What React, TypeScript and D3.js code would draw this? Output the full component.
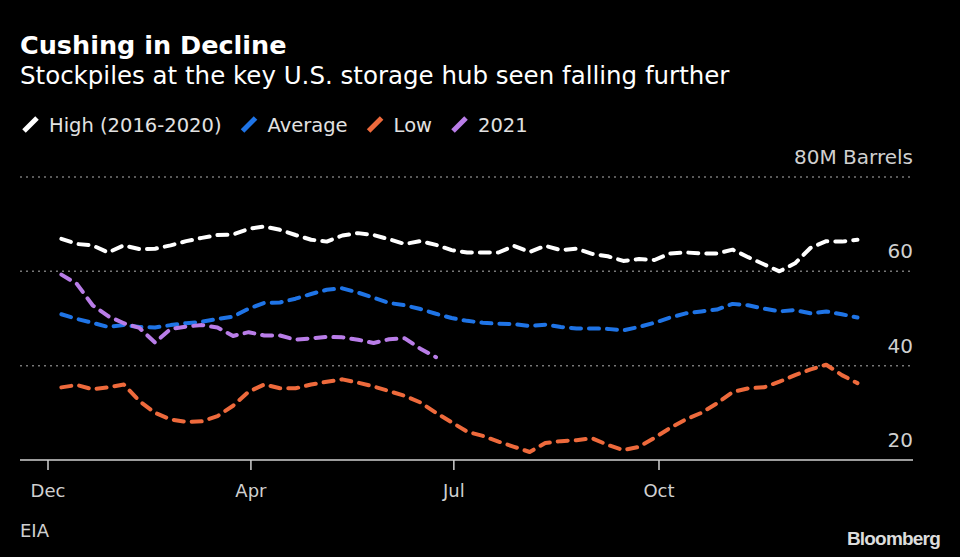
import React, { useEffect, useRef } from 'react';
import * as d3 from 'd3';

// weekly storage levels, millions of barrels (first week ends 2021-01-06)
const highValues = [
	66.9, 65.8, 65.5, 64.0, 65.5, 64.7, 64.8, 65.5, 66.4, 67.1, 67.7, 67.8, 69.0, 69.5, 68.8, 67.7, 66.7,
	66.3, 67.6, 68.1, 67.7, 66.8, 65.8, 66.4, 65.6, 64.5, 64.0, 64.0, 64.0, 65.4, 64.1, 65.4, 64.5, 64.8,
	63.7, 63.2, 62.2, 62.6, 62.4, 63.8, 64.0, 63.8, 63.8, 64.6, 63.0, 61.5, 60.0, 61.7, 65.0, 66.4, 66.3,
	66.7,
];
const averageValues = [
	50.9, 49.9, 49.1, 48.2, 48.6, 48.2, 48.1, 48.6, 49.0, 49.3, 49.9, 50.4, 52.1, 53.3, 53.4, 54.2, 55.2,
	56.1, 56.4, 55.5, 54.4, 53.3, 52.8, 52.0, 51.0, 50.1, 49.5, 49.1, 48.9, 48.8, 48.4, 48.7, 48.2, 47.9,
	47.9, 47.8, 47.5, 48.2, 49.1, 50.2, 51.1, 51.5, 51.9, 53.1, 52.8, 52.1, 51.5, 51.8, 51.1, 51.5, 50.9,
	50.2,
];
const lowValues = [
	35.4, 35.9, 35.0, 35.4, 36.0, 32.5, 30.0, 28.6, 28.1, 28.2, 29.3, 31.5, 34.5, 36.0, 35.2, 35.2, 36.0,
	36.6, 37.1, 36.4, 35.6, 34.6, 33.6, 32.2, 30.0, 28.0, 26.0, 25.1, 23.9, 22.8, 21.7, 23.6, 24.0, 24.2,
	24.6, 23.2, 22.1, 22.8, 24.7, 26.8, 28.6, 30.0, 32.0, 34.4, 35.2, 35.4, 36.6, 38.0, 39.2, 40.2, 38.0,
	36.3,
];
const values2021 = [
	59.3, 57.3, 52.8, 50.5, 49.0, 48.0, 44.9, 47.8, 48.3, 48.6, 48.1, 46.3, 47.1, 46.4, 46.4, 45.5, 45.8,
	46.1, 46.0, 45.5, 44.8, 45.6, 45.8, 43.6, 41.8,
];

const seriesNames = ['High (2016-2020)', 'Average', 'Low', '2021'];
const seriesColors = ['#ffffff', '#1f74e6', '#ee6a3c', '#b97de8'];
const yTicks = [20, 40, 60, 80];
const xTickDates = ['2020-12-31', '2021-04-01', '2021-07-01', '2021-10-01'];
const xTickLabels = ['Dec', 'Apr', 'Jul', 'Oct'];
const firstWeek = '2021-01-06';

const W = 960;
const H = 557;
const FONT = "'DejaVu Sans', sans-serif";

const App: React.FC = () => {
	const svgRef = useRef<SVGSVGElement | null>(null);

	useEffect(() => {
		if (!svgRef.current) return;
		document.body.style.margin = '0';
		document.body.style.background = '#000';

		const parse = d3.timeParse('%Y-%m-%d');
		const start = parse(firstWeek)!;
		const tickDates = xTickDates.map((d) => parse(d)!);

		const left = 20;
		const right = 913;
		const x = d3
			.scaleTime()
			.domain([tickDates[0], tickDates[3]])
			.range([48, 659]);
		const y = d3.scaleLinear().domain([20, 80]).range([460, 177]);

		const svg = d3.select(svgRef.current);
		svg.selectAll('*').remove();
		svg.append('rect').attr('width', W).attr('height', H).attr('fill', '#000');

		// titles
		svg
			.append('text')
			.attr('x', 20)
			.attr('y', 54)
			.attr('fill', '#fff')
			.attr('font-family', FONT)
			.attr('font-weight', 700)
			.attr('font-size', 25.5)
			.text('Cushing in Decline');
		svg
			.append('text')
			.attr('x', 20)
			.attr('y', 84)
			.attr('fill', '#fff')
			.attr('font-family', FONT)
			.attr('font-size', 24.5)
			.text('Stockpiles at the key U.S. storage hub seen falling further');

		// legend
		const legend = svg.append('g').attr('font-family', FONT).attr('font-size', 19.5);
		let lx = 22;
		seriesNames.forEach((name, i) => {
			legend
				.append('line')
				.attr('x1', lx + 2)
				.attr('y1', 131)
				.attr('x2', lx + 15)
				.attr('y2', 118)
				.attr('stroke', seriesColors[i])
				.attr('stroke-width', 5);
			const t = legend
				.append('text')
				.attr('x', lx + 27)
				.attr('y', 132)
				.attr('fill', '#e2e2e2')
				.text(name);
			const w = (t.node() as SVGTextElement).getComputedTextLength();
			lx += 27 + w + 19;
		});

		// y grid + labels
		const grid = svg.append('g');
		grid
			.selectAll('line')
			.data(yTicks.filter((v) => v > 20))
			.join('line')
			.attr('x1', left)
			.attr('x2', right)
			.attr('y1', (d) => y(d))
			.attr('y2', (d) => y(d))
			.attr('stroke', '#777')
			.attr('stroke-width', 1.5)
			.attr('stroke-dasharray', '2 4');
		grid
			.selectAll('text')
			.data(yTicks)
			.join('text')
			.attr('x', right)
			.attr('y', (d) => y(d) - 13)
			.attr('text-anchor', 'end')
			.attr('fill', '#d0d0d0')
			.attr('font-family', FONT)
			.attr('font-size', 20)
			.text((d) => (d === 80 ? '80M Barrels' : String(d)));

		// x axis
		svg
			.append('line')
			.attr('x1', left)
			.attr('x2', right)
			.attr('y1', y(20))
			.attr('y2', y(20))
			.attr('stroke', '#d0d0d0')
			.attr('stroke-width', 1.5);
		const xAxis = svg.append('g');
		tickDates.forEach((d, i) => {
			xAxis
				.append('line')
				.attr('x1', x(d))
				.attr('x2', x(d))
				.attr('y1', y(20))
				.attr('y2', y(20) + 10)
				.attr('stroke', '#d0d0d0')
				.attr('stroke-width', 1.5);
			xAxis
				.append('text')
				.attr('x', x(d))
				.attr('y', 497)
				.attr('text-anchor', 'middle')
				.attr('fill', '#d0d0d0')
				.attr('font-family', FONT)
				.attr('font-size', 18)
				.text(xTickLabels[i]);
		});

		// lines
		const line = d3
			.line<number>()
			.x((_, i) => x(d3.timeDay.offset(start, i * 7)))
			.y((v) => y(v));
		[highValues, averageValues, lowValues, values2021].forEach((vals, i) => {
			svg
				.append('path')
				.attr('d', line(vals))
				.attr('fill', 'none')
				.attr('stroke', seriesColors[i])
				.attr('stroke-width', 4)
				.attr('stroke-linecap', 'round')
				.attr('stroke-linejoin', 'round')
				.attr('stroke-dasharray', '10 8');
		});

		// footer
		svg
			.append('text')
			.attr('x', 20)
			.attr('y', 537)
			.attr('fill', '#d0d0d0')
			.attr('font-family', FONT)
			.attr('font-size', 18)
			.text('EIA');
		svg
			.append('text')
			.attr('x', 940)
			.attr('y', 545)
			.attr('text-anchor', 'end')
			.attr('fill', '#dcdcdc')
			.attr('font-family', "'Liberation Sans', Arial, sans-serif")
			.attr('font-weight', 700)
			.attr('font-size', 19)
			.attr('letter-spacing', -0.8)
			.text('Bloomberg');
	}, []);

	return <svg ref={svgRef} width={W} height={H} style={{ display: 'block' }}></svg>;
};

export default App;
